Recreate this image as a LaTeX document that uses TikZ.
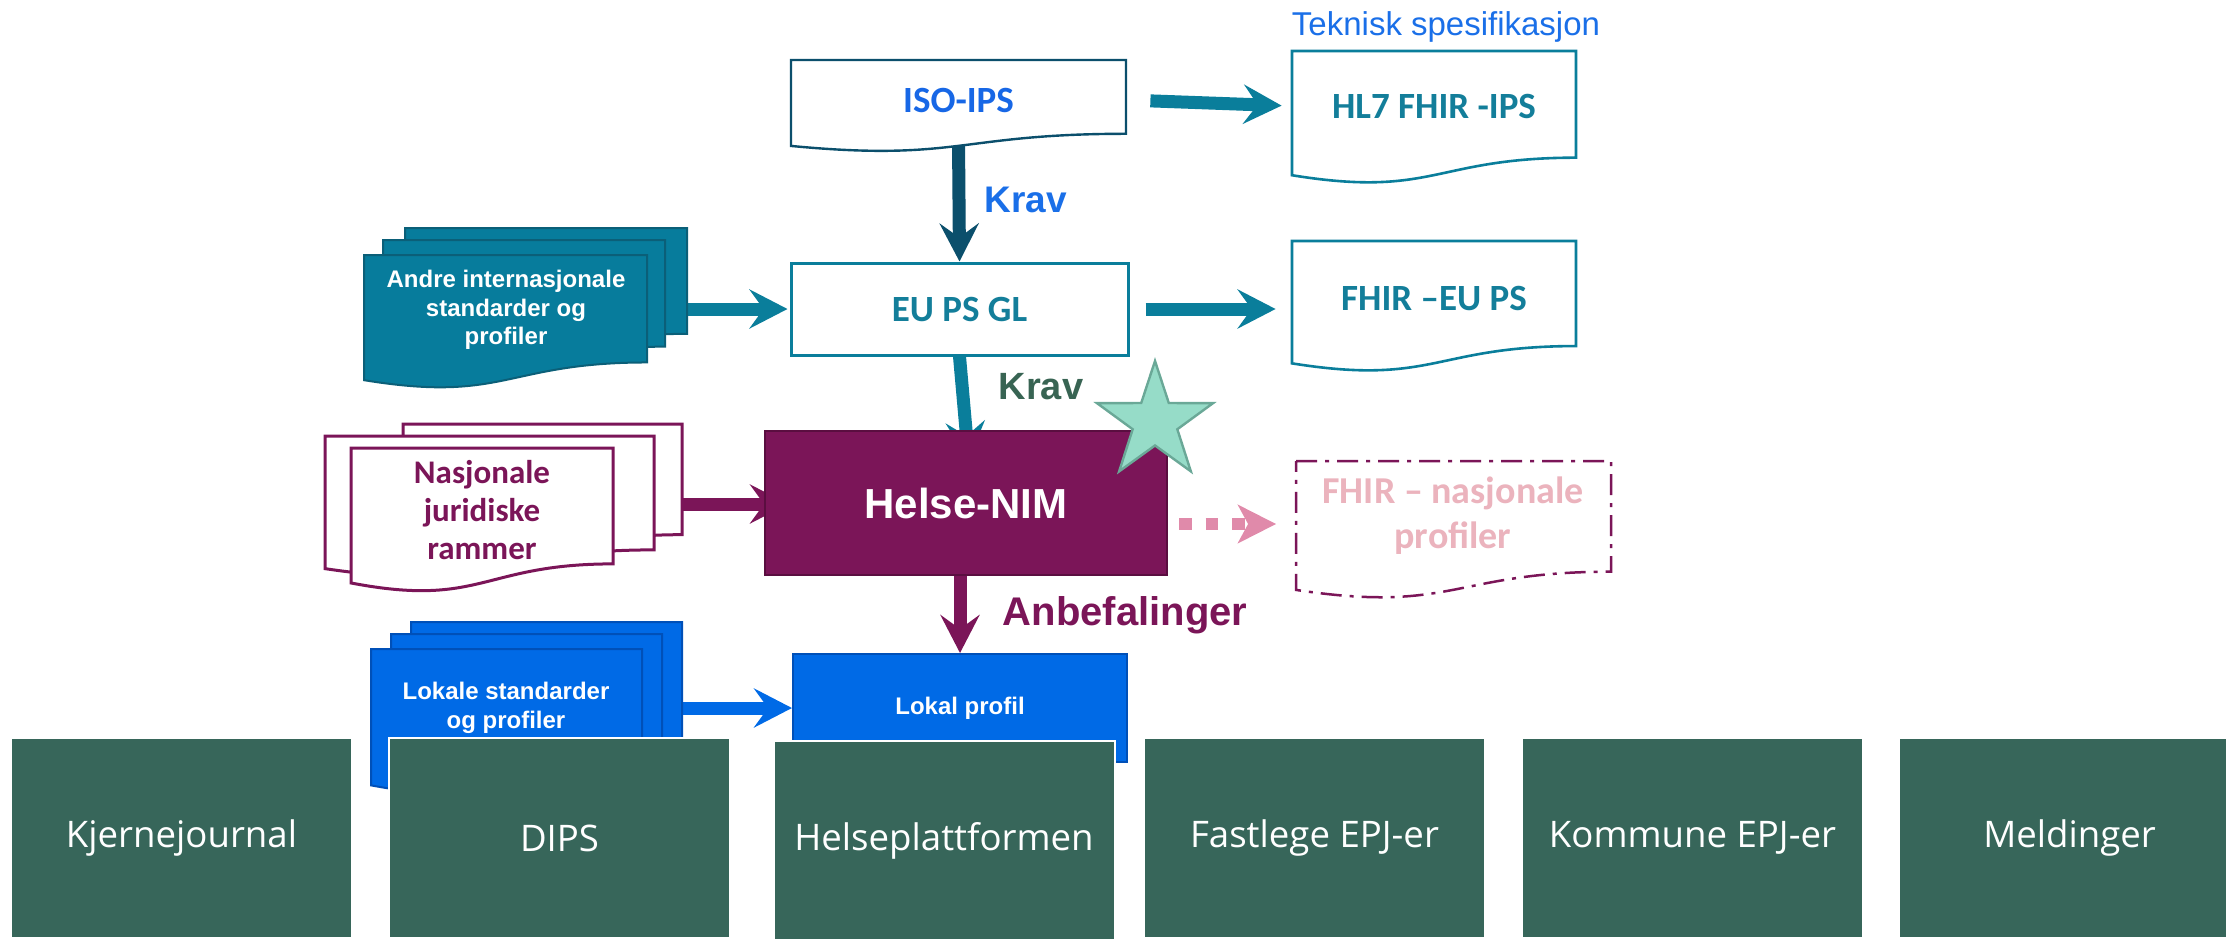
\documentclass[tikz,border=0pt]{standalone}
\usepackage{fontspec}
\setmainfont{Liberation Sans}
\newfontfamily\calfont{Carlito}
\newfontfamily\opfont{Open Sans}
\usetikzlibrary{arrows.meta,shapes.geometric,calc}
\pgfdeclarelayer{back}
\pgfsetlayers{back,main}
\definecolor{mgreen}{HTML}{37665A}
\definecolor{mpurple}{HTML}{7B1558}
\definecolor{purpdark}{HTML}{5A0E40}
\definecolor{myteal}{HTML}{0A7E9B}
\definecolor{tealdark}{HTML}{0B4F6C}
\definecolor{andrefill}{HTML}{077C9C}
\definecolor{andredraw}{HTML}{0B5F78}
\definecolor{isoblue}{HTML}{1767E6}
\definecolor{kravblue}{HTML}{1A6FE8}
\definecolor{hltext}{HTML}{137E9A}
\definecolor{lblue}{HTML}{006AE6}
\definecolor{ldraw}{HTML}{0050B8}
\definecolor{pinktext}{HTML}{EBB3BD}
\definecolor{pinkarrow}{HTML}{E08AAA}
\definecolor{kravgreen}{HTML}{386453}
\definecolor{starfill}{HTML}{96DCC8}
\definecolor{stardraw}{HTML}{6AA897}
\newcommand{\docshape}[5]{%
  \draw[#1] (#2,#3) -- (#4,#3) -- (#4,{#3+0.802*#5})
    .. controls ({(#2+#4)/2},{#3+0.802*#5}) and ({(#2+#4)/2},{#3+1.1075*#5}) ..
    (#2,{#3+0.934*#5}) -- cycle;}
\tikzset{
  boxtxt/.style={inner sep=0pt, align=center, font=\calfont\bfseries\fontsize{18.5}{22}\selectfont},
  stacktxt/.style={inner sep=0pt, align=center, text=white, font=\bfseries\fontsize{12}{14.2}\selectfont},
  gbox/.style={fill=mgreen, draw=white, line width=1pt, minimum width=170.5pt, minimum height=100pt,
    inner sep=0pt, text=white, font=\opfont\fontsize{18.3}{22}\selectfont},
  bigarrow/.style={line width=6.5pt, -{Stealth[length=19pt,width=19.5pt,inset=7pt]}},
  lbl/.style={inner sep=0pt, font=\bfseries\fontsize{18.5}{22}\selectfont},
}
\begin{document}
\begin{tikzpicture}[x=0.5pt,y=-0.5pt]
\useasboundingbox (0,0) rectangle (2226,938);

% --- Andre internasjonale stack
\docshape{fill=andrefill, draw=andredraw, line width=1pt}{405}{228}{687}{132}
\docshape{fill=andrefill, draw=andredraw, line width=1pt}{383}{240}{665}{133}
\docshape{fill=andrefill, draw=andredraw, line width=1pt}{364}{255}{647}{134}
\node[stacktxt] (andre) at (506,310) {Andre internasjonale\\standarder og\\profiler};
\coordinate (andretail) at (687,309);

% --- Nasjonale stack
\docshape{fill=white, draw=mpurple, line width=1.5pt}{403}{424}{682}{138}
\docshape{fill=white, draw=mpurple, line width=1.5pt}{325}{436}{654}{142}
\docshape{fill=white, draw=mpurple, line width=1.5pt}{351}{448}{613}{144.5}
\node[boxtxt, text=mpurple, font=\calfont\bfseries\fontsize{16.5}{19}\selectfont] (nas) at (482,510) {Nasjonale\\juridiske\\rammer};
\coordinate (nastail) at (683,504);

% --- Lokale stack
\docshape{fill=lblue, draw=ldraw, line width=1pt}{411}{622}{682}{146}
\docshape{fill=lblue, draw=ldraw, line width=1pt}{391}{634}{662}{146}
\docshape{fill=lblue, draw=ldraw, line width=1pt}{371}{649}{642}{146}
\node[stacktxt] (lokale) at (506,708) {Lokale standarder\\og profiler};
\coordinate (lokaletail) at (682,708);

% --- top boxes
\node[inner sep=0pt, text=kravblue, font=\fontsize{16.5}{20}\selectfont] (tek) at (1446,27) {Teknisk spesifikasjon};
\docshape{fill=white, draw=tealdark, line width=1.2pt}{791}{60}{1126}{92}
\node[boxtxt, text=isoblue, minimum width=167.5pt, minimum height=40pt] (iso) at (958.5,100) {ISO-IPS};
\docshape{fill=white, draw=myteal, line width=1.3pt}{1292}{51}{1576}{133}
\node[boxtxt, text=hltext, minimum width=142pt, minimum height=55pt] (hl7) at (1434,106) {HL7 FHIR -IPS};
\node[boxtxt, text=hltext, draw=myteal, fill=white, line width=1.5pt, minimum width=168.5pt, minimum height=46pt] (eu) at (959.5,309) {EU PS GL};
\docshape{fill=white, draw=myteal, line width=1.3pt}{1292}{241}{1576}{131}
\node[boxtxt, text=hltext, minimum width=142pt, minimum height=55pt] (fhireu) at (1434,298) {FHIR –EU PS};
\docshape{fill=white, draw=mpurple, line width=1.25pt, dash pattern=on 10.5pt off 4pt on 2pt off 4pt}{1296}{461}{1611}{138}
\node[boxtxt, text=pinktext, font=\calfont\bfseries\fontsize{19}{22.5}\selectfont, minimum width=157.5pt, minimum height=55pt] (fhirnas) at (1453,516) {FHIR – nasjonale\\profiler};

\node[lbl, text=kravblue] (krav1) at (1026,200) {Krav};
\node[lbl, text=kravgreen, font=\bfseries\fontsize{19}{22}\selectfont] (krav2) at (1041,387) {Krav};
\node[lbl, text=mpurple, font=\bfseries\fontsize{20}{24}\selectfont] (anb) at (1125,615) {Anbefalinger};

% --- Lokal profil
\node[draw=ldraw, fill=lblue, line width=1pt, minimum width=167pt, minimum height=54pt, inner sep=0pt,
  text=white, font=\bfseries\fontsize{12}{14}\selectfont] (lokal) at (960,708) {Lokal profil};

% --- Helse-NIM
\node[draw=purpdark, fill=mpurple, line width=1pt, minimum width=201pt, minimum height=72pt, inner sep=0pt,
  text=white, font=\bfseries\fontsize{21}{25}\selectfont] (helse) at (966,503) {Helse-NIM};
\node[star, star points=5, star point ratio=2.6, minimum size=61pt, inner sep=0pt,
  fill=starfill, draw=stardraw, line width=1.2pt] (star) at (1155,422) {};

% --- green system boxes
\node[gbox] (kj) at (181.5,838) {Kjernejournal};
\node[gbox] (dips) at (559.5,838) {DIPS};
\node[gbox] (hp) at (944,841) {Helseplattformen};
\node[gbox] (fl) at (1314.5,838) {Fastlege EPJ-er};
\node[gbox] (ko) at (1692.5,838) {Kommune EPJ-er};
\node[gbox] (me) at (2069.5,838) {Meldinger};

\coordinate (dA) at ([xshift=5.5pt,yshift=-10.5pt]helse.east);
\coordinate (dB) at (dA -| fhirnas.west);

\begin{pgfonlayer}{back}
\draw[bigarrow, tealdark] (iso.south) -- (eu.north);
\draw[bigarrow, myteal, shorten <=12pt, shorten >=5pt] (iso.east) -- (hl7.west);
\draw[bigarrow, myteal, shorten <=8pt, shorten >=8pt] (eu.east) -- (fhireu.west |- eu.east);
\draw[bigarrow, myteal, shorten >=1pt] (andretail) -- (eu.west);
\draw[bigarrow, myteal, shorten >=-15pt] (eu.south) -- (helse.north);
\draw[bigarrow, mpurple, shorten >=-12pt] (nastail) -- (helse.west |- nastail);
\draw[bigarrow, mpurple] (helse.south -| lokal.north) -- (lokal.north);
\draw[bigarrow, lblue] (lokaletail) -- (lokal.west);
\draw[line width=6.25pt, pinkarrow, dash pattern=on 6.25pt off 7pt,
  -{Stealth[length=19pt,width=19pt,inset=5pt]}, shorten >=9.5pt] (dA) -- (dB);
\end{pgfonlayer}
\end{tikzpicture}
\end{document}
